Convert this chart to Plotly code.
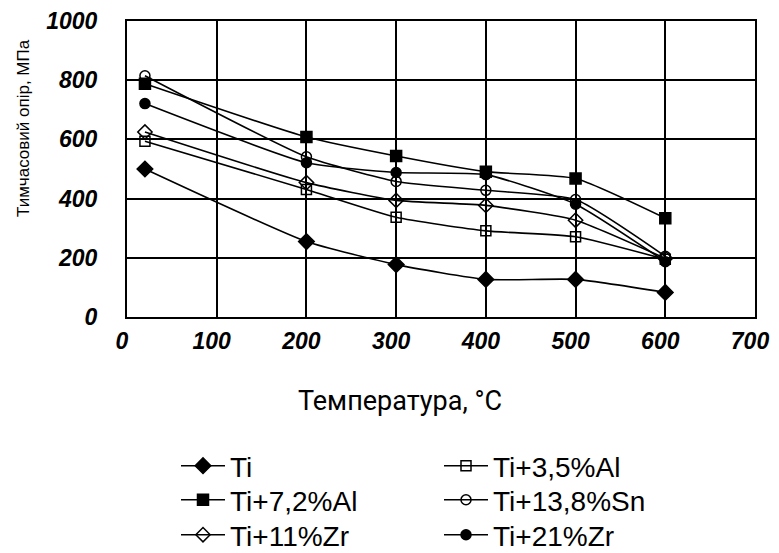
import plotly.graph_objects as go

temps = [20, 200, 300, 400, 500, 600]
series_names = ["Ti", "Ti+3,5%Al", "Ti+7,2%Al", "Ti+13,8%Sn", "Ti+11%Zr", "Ti+21%Zr"]
ti = [500, 255, 177, 127, 127, 83]
ti_al35 = [594, 431, 337, 291, 271, 195]
ti_al72 = [788, 608, 544, 491, 468, 334]
ti_sn138 = [815, 541, 458, 428, 397, 205]
ti_zr11 = [625, 454, 394, 377, 327, 198]
ti_zr21 = [721, 521, 488, 481, 381, 187]
x_ticks = [0, 100, 200, 300, 400, 500, 600, 700]
y_ticks = [0, 200, 400, 600, 800, 1000]

values = [ti, ti_al35, ti_al72, ti_sn138, ti_zr11, ti_zr21]
symbols = ["diamond", "square-open", "square", "circle-open", "diamond-open", "circle"]
sizes = [12, 10, 11, 10, 11, 10]
legends = ["legend", "legend", "legend2", "legend2", "legend3", "legend3"]

fig = go.Figure()
for name, vals, sym, sz, lg in zip(series_names, values, symbols, sizes, legends):
    fig.add_trace(go.Scatter(
        x=temps, y=vals, name=name, mode="lines+markers",
        line=dict(color="black", width=1.6, shape="spline", smoothing=0.5),
        marker=dict(symbol=sym, size=sz, color="black",
                    line=dict(color="black", width=1.5)),
        legend=lg,
    ))

# page body has an 8px margin, so the figure sits at (8, 8) in the window
OFF = 8
W, H = 779, 553
L, T = 127 - OFF, 21 - OFF
R = W - (755 - OFF)
B = H - (317 - OFF)
PW, PH = W - L - R, H - T - B


def px_x(px):
    return (px - OFF - L) / PW


def px_y(py):
    return (H - B - (py - OFF)) / PH


fig.update_layout(
    width=W, height=H,
    margin=dict(l=L, r=R, t=T, b=B, autoexpand=False),
    paper_bgcolor="white", plot_bgcolor="white",
    font=dict(family="Liberation Sans, Arial, sans-serif", color="black"),
    showlegend=True,
)

tickfont = dict(family="Liberation Sans, Arial, sans-serif", size=23,
                color="black", weight="bold", style="italic")
fig.update_xaxes(
    range=[0, 700], tickvals=x_ticks, ticktext=[str(v) for v in x_ticks],
    showgrid=True, gridcolor="black", gridwidth=1.8,
    showline=True, linecolor="black", linewidth=2, mirror=True,
    zeroline=False, ticks="", tickfont=tickfont, ticklabelstandoff=2,
    ticklabelshift=-5, ticklabeloverflow="allow", automargin=False,
)
fig.update_yaxes(
    range=[0, 1000], tickvals=y_ticks, ticktext=[str(v) for v in y_ticks],
    showgrid=True, gridcolor="black", gridwidth=1.8,
    showline=True, linecolor="black", linewidth=2, mirror=True,
    zeroline=False, ticks="", tickfont=tickfont, ticklabelstandoff=23,
    ticklabeloverflow="allow", automargin=False,
)

legfont = dict(family="Liberation Sans, Arial, sans-serif", size=28, color="black")
row_y = [466, 500, 535]
for key, yy in zip(["legend", "legend2", "legend3"], row_y):
    fig.update_layout(**{key: dict(
        orientation="h", xref="container", yref="container",
        x=(176 - OFF) / W, y=1 - (yy - OFF) / H, xanchor="left", yanchor="middle",
        entrywidth=204, entrywidthmode="pixels",
        font=legfont, bgcolor="rgba(0,0,0,0)", itemwidth=44,
        traceorder="normal",
    )})

fig.add_annotation(
    text="Температура, °C", xref="paper", yref="paper",
    x=px_x(400), y=px_y(401), xanchor="center", yanchor="middle",
    showarrow=False, font=dict(family="Roboto, sans-serif", size=27, color="black"),
)
fig.add_annotation(
    text="Тимчасовий опір, МПа", xref="paper", yref="paper",
    x=px_x(23), y=px_y(128), xanchor="center", yanchor="middle", textangle=-90,
    showarrow=False, font=dict(family="Liberation Sans, Arial, sans-serif", size=17, color="black"),
)

fig.write_html("out.html")
